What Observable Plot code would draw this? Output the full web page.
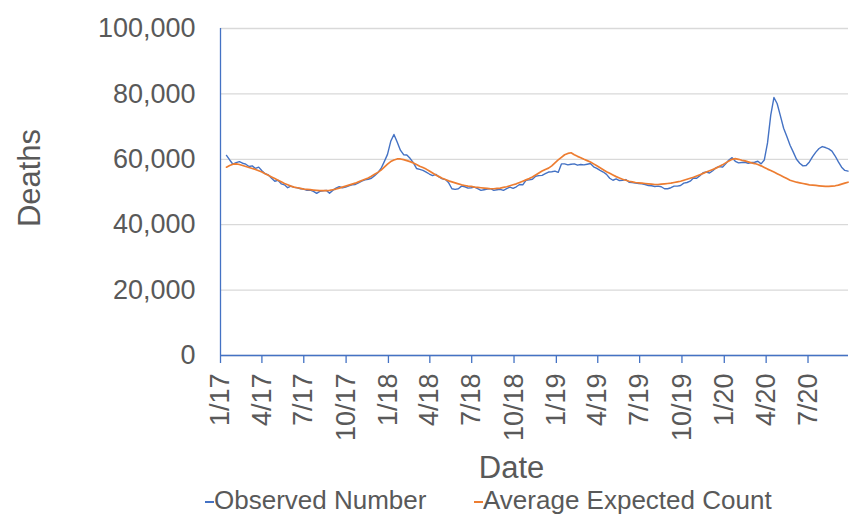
<!DOCTYPE html>
<html>
<head>
<meta charset="utf-8">
<script src="https://cdn.jsdelivr.net/npm/d3@7"></script>
<script src="https://cdn.jsdelivr.net/npm/@observablehq/plot@0.6"></script>
<style>
  body { margin: 0; background: #fff; font-family: "Liberation Sans", Arial, sans-serif; }
  #chart { width: 851px; }
  .legend { position: relative; width: 851px; height: 33px; font-size: 26px; color: #595959; }
  .item { position: absolute; top: 0; line-height: 30px; white-space: nowrap; }
  .sw { display: inline-block; width: 9px; height: 2px; vertical-align: middle; }
</style>
</head>
<body>
<div id="chart"></div>
<script>
// Weekly deaths, first week ending 2017-01-14
const firstWeek = "2017-01-14";

const observed = [
  61200, 59800, 58500, 59000, 59300, 58800, 58500, 57800, 58000, 57200, 57600, 56500, 55600, 55200, 54200, 53300, 53600, 52500, 52200, 51300, 51800, 51400, 51300, 51000, 50900, 50500, 50600,
  50200, 49600, 50200, 50400, 50500, 49600, 50500, 51200, 51600, 51300, 51500, 51900, 52200, 52300, 52800, 53300, 53700, 53900, 54200, 55000, 55900, 57200,
  59300, 61500, 65500, 67600, 65300, 62800, 61400, 61300, 60300, 59000, 57200, 56900, 56600, 56100, 55500, 55000, 55400, 54600, 54000, 53800, 52800, 51000, 50800, 51000,
  51800, 51600, 51200, 51300, 51500, 51000, 50500, 50700, 50900, 51000, 50500, 50700, 50800, 50500, 51000, 51500, 51100, 51600, 52300, 52200, 53600, 53700, 53900, 54800,
  55000, 55100, 55600, 56100, 56200, 56400, 56000, 58600, 58600, 58300, 58500, 58600, 58200, 58400, 58300, 58500, 58700, 57700, 57200, 56600, 56100, 55400, 54200, 53600,
  54000, 53500, 53600, 53800, 53000, 52900, 52700, 52600, 52500, 52300, 52000, 51900, 51700, 51800, 51600, 51000, 51000, 51300, 51800, 51800, 52000, 52700, 52900, 53300,
  54300, 54200, 55000, 55900, 56100, 55800, 56500, 57400, 57800, 57600, 58600, 59800, 60500, 59400, 58900, 59000, 59100, 58800, 59000, 59100, 59400, 58600, 59800, 65000,
  73500, 78900, 77000, 73300, 69500, 67000, 64300, 62200, 60000, 58800, 58000, 58100, 59200, 60800, 62200, 63300, 63900, 63600, 63200, 62500, 61000, 59200, 57600, 56600, 56400
];

const expected = [
  57600, 58100, 58500, 58600, 58400, 58100, 57800, 57500, 57200, 56900, 56500, 56100, 55600, 55100, 54600, 54100, 53600, 53100, 52600, 52200, 51800, 51500, 51300, 51100, 50900, 50800, 50700,
  50600, 50500, 50400, 50400, 50400, 50500, 50700, 50900, 51200, 51500, 51800, 52100, 52400, 52700, 53100, 53500, 53900, 54300, 54800, 55400, 56000, 56700,
  57600, 58500, 59300, 59800, 60100, 60100, 59900, 59600, 59300, 58900, 58400, 57900, 57500, 57000, 56400, 55800, 55200, 54700, 54200, 53800, 53400, 53100, 52800, 52500,
  52200, 52000, 51800, 51700, 51500, 51400, 51300, 51200, 51100, 51000, 51000, 51100, 51200, 51400, 51600, 51900, 52200, 52500, 52900, 53300, 53700, 54100, 54600, 55200,
  55800, 56400, 56900, 57300, 58000, 58900, 59800, 60600, 61400, 61800, 62000, 61400, 60900, 60500, 60000, 59600, 59200, 58600, 58000, 57400, 56800, 56200, 55700, 55200,
  54700, 54300, 53900, 53600, 53300, 53100, 52900, 52800, 52700, 52600, 52500, 52400, 52300, 52300, 52400, 52500, 52600, 52700, 52900, 53100, 53300, 53600, 53900, 54200,
  54500, 54900, 55300, 55700, 56100, 56500, 56900, 57300, 57800, 58300, 58900, 59500, 60000, 60200, 60000, 59700, 59500, 59200, 58900, 58700, 58400, 58000, 57500, 57000,
  56600, 56100, 55600, 55100, 54600, 54100, 53600, 53300, 53000, 52800, 52600, 52400, 52200, 52100, 52000, 51900, 51800, 51700, 51700, 51800, 51900, 52100, 52400, 52700, 53000
];

const tickDates = ["2017-01-01","2017-04-01","2017-07-01","2017-10-01","2018-01-01","2018-04-01","2018-07-01","2018-10-01",
                   "2019-01-01","2019-04-01","2019-07-01","2019-10-01","2020-01-01","2020-04-01","2020-07-01"];
const tickLabels = ["1/17","4/17","7/17","10/17","1/18","4/18","7/18","10/18","1/19","4/19","7/19","10/19","1/20","4/20","7/20"];
const yTicks = [0, 20000, 40000, 60000, 80000, 100000];
const xDomain = ["2017-01-01", "2020-09-27"].map(d => new Date(d));
const seriesNames = ["Observed Number", "Average Expected Count"];

const blue = "#4472c4", orange = "#ed7d31", gray = "#595959";

const start = new Date(firstWeek);
const data = observed.map((v, i) => ({
  date: d3.utcDay.offset(start, 7 * i),
  observed: v,
  expected: expected[i]
}));
const ticks = tickDates.map(d => new Date(d));
const labelByTime = new Map(ticks.map((d, i) => [+d, tickLabels[i]]));

const chart = Plot.plot({
  width: 851,
  height: 485,
  marginTop: 28,
  marginLeft: 220,
  marginRight: 3,
  marginBottom: 130,
  style: { fontFamily: "Liberation Sans, Arial, sans-serif", color: gray, background: "#fff" },
  x: { type: "utc", domain: xDomain },
  y: { domain: [0, 100000] },
  marks: [
    Plot.gridY(yTicks, { stroke: "#d9d9d9", strokeOpacity: 1, strokeWidth: 1.3 }),
    Plot.axisY(yTicks, { tickSize: 0, tickPadding: 25, fontSize: 27, tickFormat: d3.format(","), label: null, fill: gray }),
    Plot.axisX(ticks, { tickSize: 8, stroke: blue, strokeWidth: 1.3, tickPadding: 10, tickRotate: -90, fontSize: 27,
                        tickFormat: d => labelByTime.get(+d), label: null, fill: gray }),
    Plot.ruleY([0], { stroke: blue, strokeWidth: 1.3 }),
    Plot.ruleX([xDomain[0]], { y1: 0, y2: 100000, stroke: blue, strokeWidth: 1.3 }),
    Plot.lineY(data, { x: "date", y: "observed", stroke: blue, strokeWidth: 1.4 }),
    Plot.lineY(data, { x: "date", y: "expected", stroke: orange, strokeWidth: 1.7 }),
    Plot.text(["Deaths"], { text: d => d, frameAnchor: "left", textAnchor: "middle", lineAnchor: "middle",
                            rotate: -90, dx: -190, dy: -14, fontSize: 31, fill: gray }),
    Plot.text(["Date"], { text: d => d, frameAnchor: "bottom", textAnchor: "middle", lineAnchor: "middle",
                          dy: 113, dx: -23, fontSize: 31, fill: gray })
  ]
});
document.getElementById("chart").append(chart);

const legend = document.createElement("div");
legend.className = "legend";
const colors = [blue, orange];
const lefts = [205, 474];
seriesNames.forEach((name, i) => {
  const item = document.createElement("div");
  item.className = "item";
  item.style.left = lefts[i] + "px";
  item.innerHTML = `<span class="sw" style="background:${colors[i]}"></span>${name}`;
  legend.append(item);
});
document.getElementById("chart").append(legend);
</script>
</body>
</html>
